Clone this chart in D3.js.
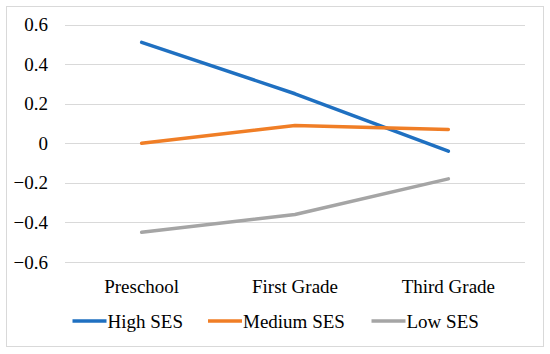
<!DOCTYPE html>
<html>
<head>
<meta charset="utf-8">
<script src="https://cdn.jsdelivr.net/npm/d3@7"></script>
<style>
  body { margin: 0; }
  #wrap { position: relative; width: 550px; height: 354px; font-family: "Liberation Serif", "Times New Roman", serif; font-size: 19px; color: #000; }
  #wrap svg { position: absolute; left: 0; top: 0; }
  .lbl { position: absolute; white-space: nowrap; line-height: 1; }
</style>
</head>
<body>
<div id="wrap"><svg id="chart"></svg></div>
<script>
// values
var grades = ["Preschool", "First Grade", "Third Grade"];
var highSES = [0.51, 0.25, -0.04];
var mediumSES = [0, 0.09, 0.07];
var lowSES = [-0.45, -0.36, -0.18];
var yTicks = [-0.6, -0.4, -0.2, 0, 0.2, 0.4, 0.6];

var series = [
  { name: "High SES", values: highSES, color: "#1f70c1" },
  { name: "Medium SES", values: mediumSES, color: "#f07e26" },
  { name: "Low SES", values: lowSES, color: "#a5a5a5" }
];

var width = 550, height = 354;
var plot = { left: 65, right: 525, top: 24.5, bottom: 262 };

var wrap = d3.select("#wrap");
var svg = d3.select("#chart").attr("width", width).attr("height", height);

// chart border
svg.append("rect")
  .attr("x", 6.5).attr("y", 6.5)
  .attr("width", 537).attr("height", 340)
  .attr("fill", "#fff")
  .attr("stroke", "#d9d9d9");

var x = d3.scaleBand().domain(grades).range([plot.left, plot.right]);
var y = d3.scaleLinear().domain([-0.6, 0.6]).range([plot.bottom, plot.top]);
var fmt = d => d === 0 ? "0" : d3.format(".1f")(d);

// gridlines
svg.append("g")
  .selectAll("line")
  .data(yTicks)
  .join("line")
  .attr("x1", plot.left).attr("x2", plot.right)
  .attr("y1", d => Math.round(y(d)) + 0.5)
  .attr("y2", d => Math.round(y(d)) + 0.5)
  .attr("stroke", "#d9d9d9");

// y tick labels (html text, right aligned at x=48)
wrap.selectAll("div.ytick")
  .data(yTicks)
  .join("div")
  .attr("class", "lbl ytick")
  .style("right", (width - 48) + "px")
  .style("top", d => (y(d) - 9.5) + "px")
  .text(fmt);

// x category labels
wrap.selectAll("div.xtick")
  .data(grades)
  .join("div")
  .attr("class", "lbl xtick")
  .style("left", d => (x(d) + x.bandwidth() / 2) + "px")
  .style("top", "277px")
  .style("transform", "translateX(-50%)")
  .text(d => d);

// lines
var line = d3.line()
  .x((d, i) => x(grades[i]) + x.bandwidth() / 2)
  .y(d => y(d));

svg.append("g")
  .selectAll("path")
  .data(series)
  .join("path")
  .attr("d", d => line(d.values))
  .attr("fill", "none")
  .attr("stroke", d => d.color)
  .attr("stroke-width", 3.5)
  .attr("stroke-linecap", "round")
  .attr("stroke-linejoin", "round");

// legend
var legendX = [72.5, 208, 371.5];
svg.append("g")
  .selectAll("line")
  .data(series)
  .join("line")
  .attr("x1", (d, i) => legendX[i]).attr("x2", (d, i) => legendX[i] + 34)
  .attr("y1", 321).attr("y2", 321)
  .attr("stroke", d => d.color)
  .attr("stroke-width", 3.5);

wrap.selectAll("div.leg")
  .data(series)
  .join("div")
  .attr("class", "lbl leg")
  .style("left", (d, i) => (legendX[i] + 35) + "px")
  .style("top", "311.5px")
  .text(d => d.name);
</script>
</body>
</html>
